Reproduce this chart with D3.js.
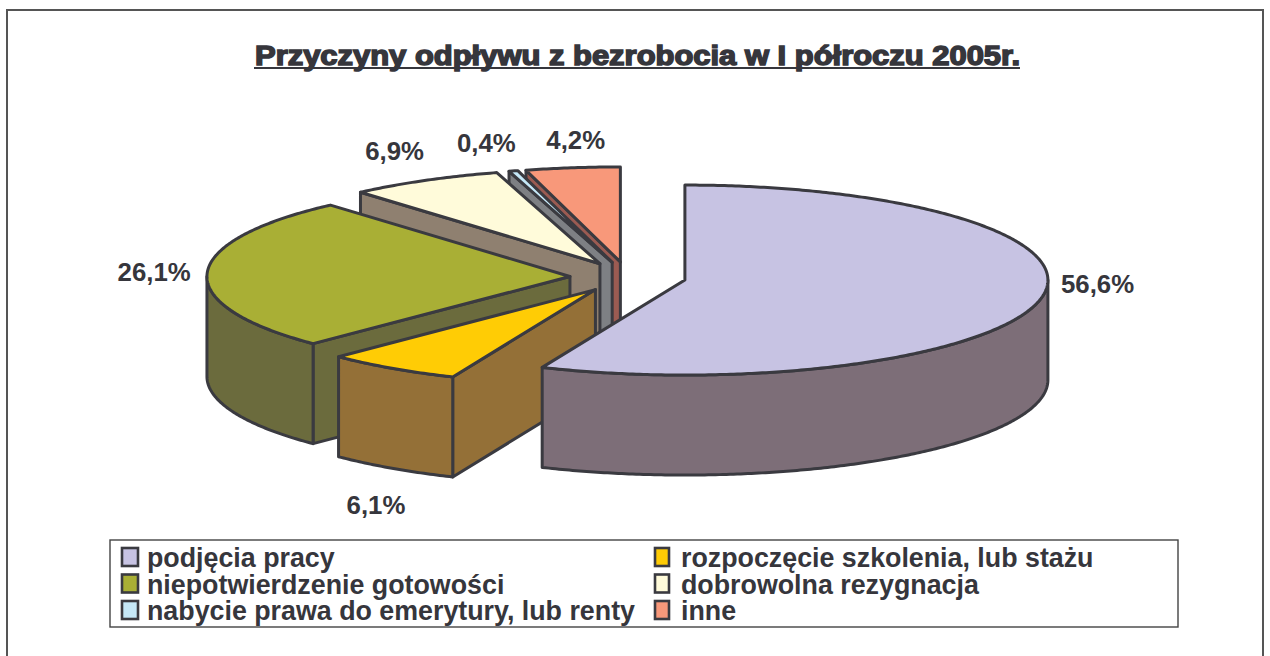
<!DOCTYPE html>
<html>
<head>
<meta charset="utf-8">
<script src="https://cdn.jsdelivr.net/npm/d3@7"></script>
<style>
    body { margin: 0; background: #fff; }
    svg { display: block; }
    text { font-family: "Liberation Sans", Arial, sans-serif; font-weight: bold; fill: #36363c; }
</style>
</head>
<body>
<div id="chart"></div>
<script>
const w = 1270;
const h = 656;

const title = "Przyczyny odpływu z bezrobocia w I półroczu 2005r.";
const categories = ["podjęcia pracy", "rozpoczęcie szkolenia, lub stażu", "niepotwierdzenie gotowości",
    "dobrowolna rezygnacja", "nabycie prawa do emerytury, lub renty", "inne"];
const values = [56.6, 6.1, 26.1, 6.9, 0.4, 4.2];
const labels = ["56,6%", "6,1%", "26,1%", "6,9%", "0,4%", "4,2%"];
const topColors = ["#c7c3e3", "#ffcc05", "#a9af35", "#fffbda", "#c5e8f8", "#f8987a"];
const wallColors = ["#7d6e78", "#947037", "#6b6b3d", "#8f8070", "#7e8084", "#9b5b52"];

// label nudge from the rim point at the middle of each slice
const labelNudge = [[57, -13], [-16, 139], [-53, 1], [-30, -27], [-27, -26], [3, -26]];

const depth = 100;
const explode = 0.16;
const stroke = "#3a3a40";

const x = d3.scaleLinear().domain([-1, 1]).range([265, 991]);
const y = d3.scaleLinear().domain([-1, 1]).range([182, 372]);

const svg = d3.select("#chart").append("svg").attr("width", w).attr("height", h);

svg.append("rect")
    .attr("x", 7).attr("y", 10)
    .attr("width", 1256).attr("height", 700)
    .attr("fill", "none").attr("stroke", "#555").attr("stroke-width", 2);

svg.append("text")
    .attr("x", 637.5).attr("y", 65)
    .attr("text-anchor", "middle")
    .attr("font-size", 27)
    .attr("textLength", 765)
    .attr("lengthAdjust", "spacingAndGlyphs")
    .style("stroke", "#36363c").style("stroke-width", 1.5)
    .text(title);

svg.append("line")
    .attr("x1", 254).attr("x2", 1020)
    .attr("y1", 68).attr("y2", 68)
    .attr("stroke", "#36363c").attr("stroke-width", 2);

const pie = d3.pie().sort(null).startAngle(0).endAngle(2 * Math.PI);
const arcs = pie(values);

// unit circle point of a slice, pushed out along its middle angle
function point(d, a, r = 1) {
    const mid = (d.startAngle + d.endAngle) / 2;
    return [r * Math.sin(a) + explode * Math.sin(mid), -r * Math.cos(a) - explode * Math.cos(mid)];
}

const line = d3.line().x(p => x(p[0])).y(p => y(p[1]));

function sample(d, a0, a1) {
    const n = Math.max(2, Math.ceil((a1 - a0) / 0.01));
    return d3.range(n + 1).map(i => point(d, a0 + (a1 - a0) * i / n));
}

function wallPath(top) {
    const a = line(top);
    const b = line(top.slice().reverse());
    return a + "L" + b.slice(1).replace(/(-?[\d.]+),(-?[\d.]+)/g, (m, px, py) => px + "," + (+py + depth)) + "Z";
}

const groups = svg.selectAll("g.slice")
    .data(arcs.slice().reverse())
    .enter()
    .append("g")
    .attr("class", "slice")
    .attr("stroke", stroke)
    .attr("stroke-width", 3)
    .attr("stroke-linejoin", "round");

groups.each(function(d) {
    const g = d3.select(this);
    const wall = wallColors[d.index];
    const apex = point(d, 0, 0);

    // radial wall, only when it faces the viewer
    if (Math.sin(d.startAngle) < -0.001) {
        g.append("path").attr("fill", wall)
            .attr("d", wallPath([point(d, d.startAngle), apex]));
    }
    if (Math.sin(d.endAngle) > 0.001) {
        g.append("path").attr("fill", wall)
            .attr("d", wallPath([apex, point(d, d.endAngle)]));
    }

    // front rim
    const a0 = Math.max(d.startAngle, Math.PI / 2);
    const a1 = Math.min(d.endAngle, 3 * Math.PI / 2);
    if (a1 > a0) {
        g.append("path").attr("fill", wall).attr("d", wallPath(sample(d, a0, a1)));
    }

    g.append("path")
        .attr("fill", topColors[d.index])
        .attr("d", line([apex].concat(sample(d, d.startAngle, d.endAngle))) + "Z");
});

svg.selectAll("text.label")
    .data(arcs)
    .enter()
    .append("text")
    .attr("class", "label")
    .attr("font-size", 25.8)
    .attr("text-anchor", "middle")
    .attr("dominant-baseline", "middle")
    .attr("x", d => x(point(d, (d.startAngle + d.endAngle) / 2)[0]) + labelNudge[d.index][0])
    .attr("y", d => y(point(d, (d.startAngle + d.endAngle) / 2)[1]) + labelNudge[d.index][1])
    .text(d => labels[d.index]);

// legend
svg.append("rect")
    .attr("x", 110).attr("y", 540)
    .attr("width", 1068).attr("height", 87)
    .attr("fill", "#fff").attr("stroke", "#444").attr("stroke-width", 1.4);

const legend = svg.selectAll("g.legend")
    .data(categories)
    .enter()
    .append("g")
    .attr("class", "legend")
    .attr("transform", (d, i) => "translate(" + (i % 2 ? 655 : 122) + "," + (548 + 26.5 * Math.floor(i / 2)) + ")");

legend.append("rect")
    .attr("width", (d, i) => i % 2 ? 14 : 16).attr("height", 18)
    .attr("fill", (d, i) => topColors[i])
    .attr("stroke", stroke).attr("stroke-width", 2.6);

legend.append("text")
    .attr("x", (d, i) => i % 2 ? 26 : 25)
    .attr("y", 19)
    .attr("font-size", 26.8)
    .text(d => d);
</script>
</body>
</html>
